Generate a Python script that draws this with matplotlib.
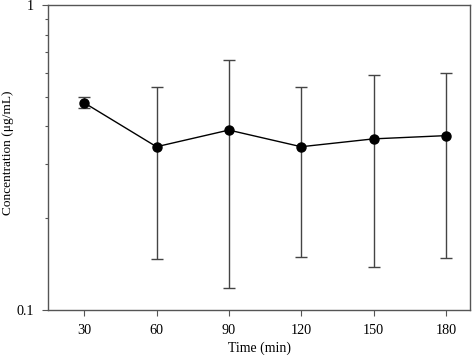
import matplotlib
matplotlib.use("Agg")
import matplotlib.pyplot as plt
from matplotlib.ticker import FixedLocator, NullFormatter, FixedFormatter

times = [30, 60, 90, 120, 150, 180]
means = [0.478, 0.343, 0.389, 0.343, 0.364, 0.373]
sds = [0.020, 0.196, 0.271, 0.194, 0.226, 0.225]
x_tick_labels = ["30", "60", "90", "120", "150", "180"]
y_major = [0.1, 1.0]
y_major_labels = ["0.1", "1"]
y_minor = [0.2, 0.3, 0.4, 0.5, 0.6, 0.7, 0.8, 0.9]

plt.rcParams['font.family'] = ['Liberation Serif', 'DejaVu Serif']
plt.rcParams['font.size'] = 10

fig = plt.figure(figsize=(4.72, 3.55), dpi=100)
ax = fig.add_axes([48/472, 1-310/355, (470-48)/472, (310-5)/355])

ax.errorbar(times, means, yerr=sds, fmt='-o', color='black', ecolor='#444444',
            elinewidth=1.0, capsize=4, capthick=1.0, markersize=6.5, linewidth=1.0)

ax.set_yscale('log')
ax.set_ylim(0.1, 1.0)
ax.set_xlim(15, 190)
ax.yaxis.set_major_locator(FixedLocator(y_major))
ax.yaxis.set_major_formatter(FixedFormatter(y_major_labels))
ax.yaxis.set_minor_locator(FixedLocator(y_minor))
ax.yaxis.set_minor_formatter(NullFormatter())
ax.set_xticks(times)
ax.set_xticklabels(x_tick_labels)

for s in ax.spines.values():
    s.set_color('#555555')
    s.set_linewidth(1.0)
ax.tick_params(axis='both', which='major', direction='out', length=4, width=0.8,
               color='#555555', labelsize=10.2, pad=6)
ax.tick_params(axis='y', which='minor', direction='out', length=2.5, width=0.8, color='#555555')

ax.set_xlabel("Time (min)", fontsize=10, labelpad=3)
ax.set_ylabel("Concentration (μg/mL)", fontsize=9.6)
ax.yaxis.set_label_coords(-34/422, 0.515)

fig.savefig("out.png", dpi=100)
